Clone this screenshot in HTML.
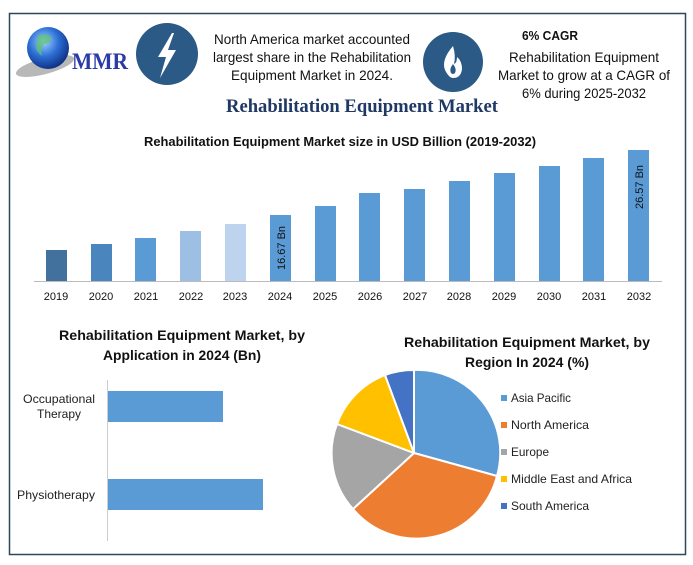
<!DOCTYPE html>
<html><head><meta charset="utf-8"><style>
html,body{margin:0;padding:0;background:#fff}
svg{display:block}
text{font-family:"Liberation Sans",sans-serif}
</style></head><body>
<svg width="693" height="565" viewBox="0 0 693 565" xmlns="http://www.w3.org/2000/svg">
<rect x="0" y="0" width="693" height="565" fill="#fff"/>
<rect x="9.5" y="13.5" width="676" height="541" fill="none" stroke="#2f4858" stroke-width="1.5"/>
<defs><radialGradient id="g" cx="0.4" cy="0.35" r="0.7"><stop offset="0" stop-color="#9fd4ff"/><stop offset="0.5" stop-color="#2d6fd6"/><stop offset="1" stop-color="#0b2a7a"/></radialGradient></defs>
<ellipse cx="45" cy="66" rx="30" ry="8" fill="#888" opacity="0.6" transform="rotate(-15 45 66)"/>
<circle cx="48" cy="48" r="21" fill="url(#g)"/>
<path d="M38 36 q8 -4 14 2 q-2 6 -8 6 q-4 6 -2 12 q-6 -4 -6 -10z" fill="#5fc46a" opacity="0.7"/>
<text x="72" y="69" font-weight="bold" font-size="23" fill="#2a3aa8" style="font-family:'Liberation Serif',serif" textLength="56" lengthAdjust="spacingAndGlyphs">MMR</text>
<circle cx="167" cy="54" r="31" fill="#2a5a85"/>
<path d="M172 33 L158 57 L166 57 L160 78 L176 50 L168 50 L174 33z" fill="#fff"/>
<g font-size="14" fill="#111" text-anchor="middle" lengthAdjust="spacingAndGlyphs">
<text x="312" y="44" textLength="196" lengthAdjust="spacingAndGlyphs">North America market accounted</text>
<text x="312" y="62" textLength="198" lengthAdjust="spacingAndGlyphs">largest share in the Rehabilitation</text>
<text x="312" y="80" textLength="162" lengthAdjust="spacingAndGlyphs">Equipment Market in 2024.</text>
</g>
<circle cx="453" cy="62" r="30" fill="#2a5a85"/>
<path d="M453 46 q-12 14 -8 24 q4 8 8 8 q8 0 9 -9 q0 -8 -5 -12 q0 6 -3 7 q2 -8 -1 -18z" fill="#fff"/>
<path d="M453 64 q-4 5 -2 9 q2 2 4 0 q2 -4 -2 -9z" fill="#2a5a85"/>
<text x="522" y="40" font-size="13" font-weight="bold" fill="#111" textLength="56" lengthAdjust="spacingAndGlyphs">6% CAGR</text>
<g font-size="14" fill="#111" text-anchor="middle">
<text x="584" y="62" textLength="150" lengthAdjust="spacingAndGlyphs">Rehabilitation Equipment</text>
<text x="584" y="80" textLength="172" lengthAdjust="spacingAndGlyphs">Market to grow at a CAGR of</text>
<text x="584" y="98" textLength="124" lengthAdjust="spacingAndGlyphs">6% during 2025-2032</text>
</g>
<text x="362" y="112" text-anchor="middle" font-size="19" font-weight="bold" fill="#1f3864" style="font-family:'Liberation Serif',serif" textLength="272" lengthAdjust="spacingAndGlyphs">Rehabilitation Equipment Market</text>
<text x="340" y="146" text-anchor="middle" font-size="13" font-weight="bold" fill="#111" textLength="392" lengthAdjust="spacingAndGlyphs">Rehabilitation Equipment Market size in USD Billion (2019-2032)</text>
<g>
<rect x="46" y="250" width="21" height="31" fill="#41719c"/>
<rect x="91" y="244" width="21" height="37" fill="#4a85bd"/>
<rect x="135" y="238" width="21" height="43" fill="#5b9bd5"/>
<rect x="180" y="231" width="21" height="50" fill="#9dbfe3"/>
<rect x="225" y="224" width="21" height="57" fill="#bdd3ee"/>
<rect x="270" y="215" width="21" height="66" fill="#5b9bd5"/>
<rect x="315" y="206" width="21" height="75" fill="#5b9bd5"/>
<rect x="359" y="193" width="21" height="88" fill="#5b9bd5"/>
<rect x="404" y="189" width="21" height="92" fill="#5b9bd5"/>
<rect x="449" y="181" width="21" height="100" fill="#5b9bd5"/>
<rect x="494" y="173" width="21" height="108" fill="#5b9bd5"/>
<rect x="539" y="166" width="21" height="115" fill="#5b9bd5"/>
<rect x="583" y="158" width="21" height="123" fill="#5b9bd5"/>
<rect x="628" y="150" width="21" height="131" fill="#5b9bd5"/>
</g>
<text transform="translate(285 270) rotate(-90)" font-size="11" fill="#111">16.67 Bn</text>
<text transform="translate(643 209) rotate(-90)" font-size="11" fill="#111">26.57 Bn</text>
<line x1="34" y1="281.5" x2="662" y2="281.5" stroke="#bbb"/>
<g font-size="11" fill="#111" text-anchor="middle">
<text x="56" y="300">2019</text><text x="101" y="300">2020</text><text x="146" y="300">2021</text><text x="191" y="300">2022</text><text x="235" y="300">2023</text><text x="280" y="300">2024</text><text x="325" y="300">2025</text><text x="370" y="300">2026</text><text x="415" y="300">2027</text><text x="459" y="300">2028</text><text x="504" y="300">2029</text><text x="549" y="300">2030</text><text x="594" y="300">2031</text><text x="639" y="300">2032</text>
</g>
<g font-size="14" font-weight="bold" fill="#111" text-anchor="middle">
<text x="182" y="340" textLength="246" lengthAdjust="spacingAndGlyphs">Rehabilitation Equipment Market, by</text>
<text x="182" y="360" textLength="158" lengthAdjust="spacingAndGlyphs">Application in 2024 (Bn)</text>
</g>
<line x1="107.5" y1="380" x2="107.5" y2="541" stroke="#ccc"/>
<rect x="108" y="391" width="115" height="31" fill="#5b9bd5"/>
<rect x="108" y="479" width="155" height="31" fill="#5b9bd5"/>
<g font-size="12" fill="#222" text-anchor="middle">
<text x="59" y="403" textLength="72" lengthAdjust="spacingAndGlyphs">Occupational</text><text x="59" y="418" textLength="44" lengthAdjust="spacingAndGlyphs">Therapy</text>
<text x="56" y="499" textLength="78" lengthAdjust="spacingAndGlyphs">Physiotherapy</text>
</g>
<g font-size="14" font-weight="bold" fill="#111" text-anchor="middle">
<text x="527" y="347" textLength="246" lengthAdjust="spacingAndGlyphs">Rehabilitation Equipment Market, by</text>
<text x="527" y="367" textLength="124" lengthAdjust="spacingAndGlyphs">Region In 2024 (%)</text>
</g>
<g stroke="#fff" stroke-width="2">
<path d="M414 453 L414 370 A83 83 0 0 1 497 476 Z" fill="#5b9bd5"/>
<path d="M414 453 L497 476 A83 83 0 0 1 353 509 Z" fill="#ed7d31"/>
<path d="M414 453 L353 509 A83 83 0 0 1 337 424 Z" fill="#a5a5a5"/>
<path d="M414 453 L337 424 A83 83 0 0 1 385 375 Z" fill="#ffc000"/>
<path d="M414 453 L385 375 A83 83 0 0 1 414 370 Z" fill="#4472c4"/>
</g>
<g font-size="12" fill="#222">
<rect x="501" y="395" width="6" height="6" fill="#5b9bd5"/><text x="511" y="402" textLength="60" lengthAdjust="spacingAndGlyphs">Asia Pacific</text>
<rect x="501" y="422" width="6" height="6" fill="#ed7d31"/><text x="511" y="429" textLength="78" lengthAdjust="spacingAndGlyphs">North America</text>
<rect x="501" y="449" width="6" height="6" fill="#a5a5a5"/><text x="511" y="456" textLength="38" lengthAdjust="spacingAndGlyphs">Europe</text>
<rect x="501" y="476" width="6" height="6" fill="#ffc000"/><text x="511" y="483" textLength="121" lengthAdjust="spacingAndGlyphs">Middle East and Africa</text>
<rect x="501" y="503" width="6" height="6" fill="#4472c4"/><text x="511" y="510" textLength="78" lengthAdjust="spacingAndGlyphs">South America</text>
</g>
</svg>
</body></html>
